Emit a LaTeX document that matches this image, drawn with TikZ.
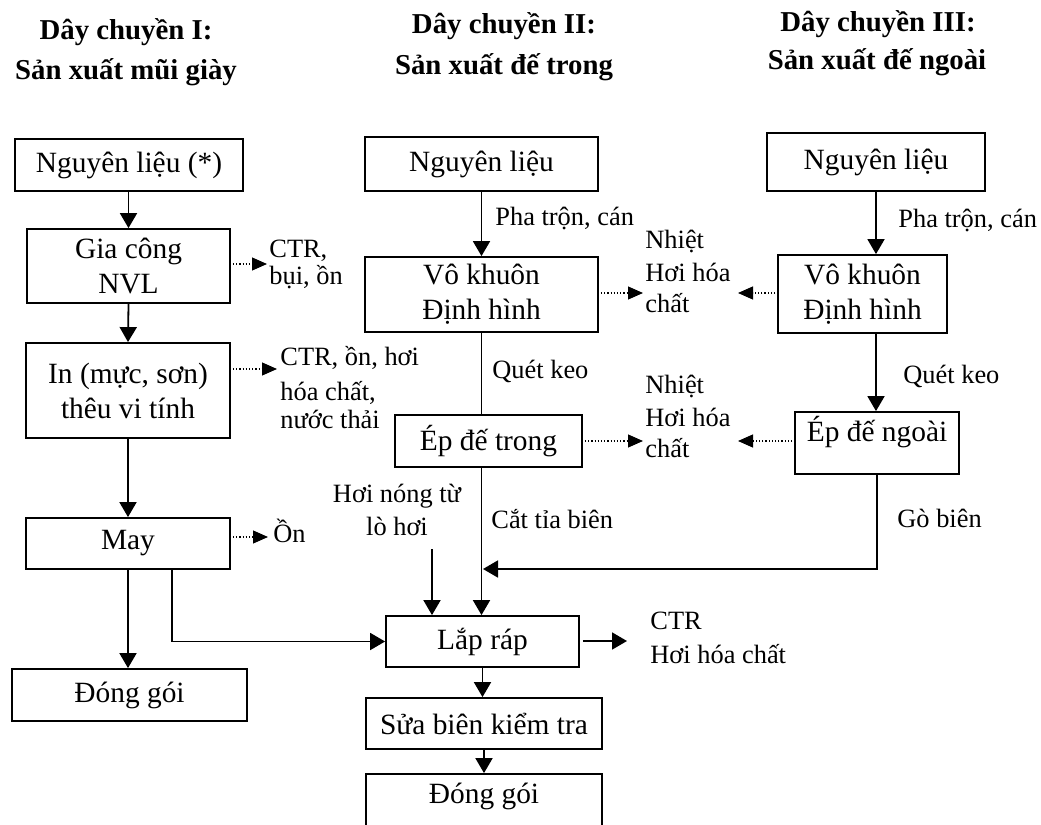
\documentclass[tikz,border=0pt]{standalone}
\usepackage{fontspec}
\setmainfont{Liberation Serif}
\usetikzlibrary{arrows.meta}
\newcommand\bxfont{\fontsize{14.7}{17.5}\selectfont}
\newcommand\lblfont{\fontsize{13.2}{15.5}\selectfont}
\newcommand\hdfont{\bfseries\fontsize{14.4}{17}\selectfont}
\begin{document}
\begin{tikzpicture}[x=0.5pt,y=-0.5pt,
  pbox/.style={draw, line width=0.9pt, inner sep=0pt, align=center, font=\bxfont},
  btxt/.style={inner sep=0pt, font=\bxfont},
  lbl/.style={inner sep=0pt, font=\lblfont},
  hd/.style={inner sep=0pt, font=\hdfont},
  link/.style={line width=0.9pt},
  arr/.style={line width=0.9pt, -{Triangle[length=7.5pt,width=8.5pt]}},
  dotarr/.style={line width=0.6pt, densely dotted, -{Triangle[length=7.5pt,width=6.5pt]}}]
\useasboundingbox (0,0) rectangle (1041,825);
\clip (0,0) rectangle (1041,825);

% headings of the three lines
\node[hd, anchor=base] (h1a) at (126,39) {Dây chuyền I:};
\node[hd, anchor=base] (h1b) at (126,79) {Sản xuất mũi giày};
\node[hd, anchor=base] (h2a) at (504,33) {Dây chuyền II:};
\node[hd, anchor=base] (h2b) at (504,74) {Sản xuất đế trong};
\node[hd, anchor=base] (h3a) at (878,31) {Dây chuyền III:};
\node[hd, anchor=base] (h3b) at (877,69) {Sản xuất đế ngoài};

% line I: uppers
\node[pbox, minimum width=114pt, minimum height=26pt] (nl1) at (129,165) {Nguyên liệu (*)};
\node[pbox, minimum width=101.5pt, minimum height=37pt] (gc1) at (128.5,266) {Gia công\\NVL};
\node[pbox, minimum width=102pt, minimum height=47.5pt] (in1) at (128,390.5) {In (mực, sơn)\\thêu vi tính};
\node[pbox, minimum width=102pt, minimum height=25.5pt] (may) at (128,543.5) {May};
\node[pbox, minimum width=117.5pt, minimum height=26pt] (dg1) at (129.5,695) {Đóng gói};

% line II: inner soles
\node[pbox, minimum width=116.5pt, minimum height=27pt] (nl2) at (481.5,164) {Nguyên liệu};
\node[pbox, minimum width=116.5pt, minimum height=37.5pt] (vk2) at (481.5,294.5) {Vô khuôn\\Định hình};
\node[pbox, minimum width=93.5pt, minimum height=26pt] (ep2) at (488.5,441) {Ép đế trong};

% line III: outer soles
\node[pbox, minimum width=109pt, minimum height=29pt] (nl3) at (876,162) {Nguyên liệu};
\node[pbox, minimum width=84.5pt, minimum height=39pt] (vk3) at (862.5,294) {Vô khuôn\\Định hình};
\node[pbox, minimum width=82pt, minimum height=31pt] (ep3) at (877,443) {};
\node[btxt, anchor=base] (ep3t) at (877,441) {Ép đế ngoài};

% assembly and finishing
\node[pbox, minimum width=96.5pt, minimum height=25.5pt] (lap) at (482.5,641.5) {Lắp ráp};
\node[pbox, minimum width=118pt, minimum height=25.5pt] (sb) at (484,723.5) {Sửa biên kiểm tra};
\node[pbox, minimum width=118pt, minimum height=48pt] (dg2) at (484,822) {};
\node[btxt, anchor=base] (dg2t) at (484,803) {Đóng gói};

% emissions and process labels
\node[lbl, anchor=base west] (e1a) at (269,257) {CTR,};
\node[lbl, anchor=base west] (e1b) at (269,284) {bụi, ồn};
\node[lbl, anchor=base west] (e2a) at (280,365) {CTR, ồn, hơi};
\node[lbl, anchor=base west] (e2b) at (280,400) {hóa chất,};
\node[lbl, anchor=base west] (e2c) at (280,428) {nước thải};
\node[lbl, anchor=base west] (e3) at (273,542) {Ồn};
\node[lbl, anchor=base west] (p2) at (495,225) {Pha trộn, cán};
\node[lbl, anchor=base west] (p3) at (898,227) {Pha trộn, cán};
\node[lbl, anchor=base west] (e4a) at (645,248) {Nhiệt};
\node[lbl, anchor=base west] (e4b) at (645,281) {Hơi hóa};
\node[lbl, anchor=base west] (e4c) at (645,312) {chất};
\node[lbl, anchor=base west] (e5a) at (645,393) {Nhiệt};
\node[lbl, anchor=base west] (e5b) at (645,426) {Hơi hóa};
\node[lbl, anchor=base west] (e5c) at (645,457) {chất};
\node[lbl, anchor=base west] (q2) at (492,378) {Quét keo};
\node[lbl, anchor=base west] (q3) at (903,383) {Quét keo};
\node[lbl, anchor=base west] (ct) at (491,528) {Cắt tỉa biên};
\node[lbl, anchor=base west] (gb) at (897,527) {Gò biên};
\node[lbl, anchor=base] (hn1) at (397,502) {Hơi nóng từ};
\node[lbl, anchor=base] (hn2) at (397,535) {lò hơi};
\node[lbl, anchor=base west] (e6a) at (650,629) {CTR};
\node[lbl, anchor=base west] (e6b) at (650,663) {Hơi hóa chất};

% free ends of the side arrows
\coordinate (d1) at (267,264);
\coordinate (d2) at (277,369);
\coordinate (d3) at (268,537);
\coordinate (d4) at (643,293);
\coordinate (d5) at (738,293);
\coordinate (d6) at (643,441);
\coordinate (d7) at (738,441);
\coordinate (gojoin) at (483,569);
\coordinate (steam) at (432,549);
\coordinate (ctrtip) at (627,641);

% flow of line I
\draw[arr] (nl1.south -| gc1.south) -- (gc1.north);
\draw[arr] (gc1.south) -- (in1.north);
\draw[arr] (in1.south) -- (may.north);
\draw[arr] (may.south) -- (may.south |- dg1.north);
\draw[arr] ([xshift=22pt]may.south) |- (lap.west);

% flow of line II
\draw[arr] (nl2.south) -- (vk2.north);
\draw[link] (vk2.south) -- (vk2.south |- ep2.north);
\draw[arr] (vk2.south |- ep2.south) -- (vk2.south |- lap.north);

% flow of line III
\draw[arr] (nl3.south) -- (nl3.south |- vk3.north);
\draw[arr] (nl3.south |- vk3.south) -- (nl3.south |- ep3.north);
\draw[arr] (ep3.south) |- (gojoin);

% assembly inputs and outputs
\draw[arr] (steam) -- (steam |- lap.north);
\draw[arr] ([xshift=1.5pt]lap.east |- ctrtip) -- (ctrtip);
\draw[arr] (lap.south) -- (lap.south |- sb.north);
\draw[arr] (sb.south) -- (sb.south |- dg2.north);

% emissions (dotted)
\draw[dotarr] ([xshift=1pt]gc1.east |- d1) -- (d1);
\draw[dotarr] ([xshift=1pt]in1.east |- d2) -- (d2);
\draw[dotarr] ([xshift=1pt]may.east |- d3) -- (d3);
\draw[dotarr] ([xshift=1pt]vk2.east |- d4) -- (d4);
\draw[dotarr] ([xshift=-1pt]vk3.west |- d5) -- (d5);
\draw[dotarr] ([xshift=1pt]ep2.east |- d6) -- (d6);
\draw[dotarr] ([xshift=-1pt]ep3.west |- d7) -- (d7);
\end{tikzpicture}
\end{document}
